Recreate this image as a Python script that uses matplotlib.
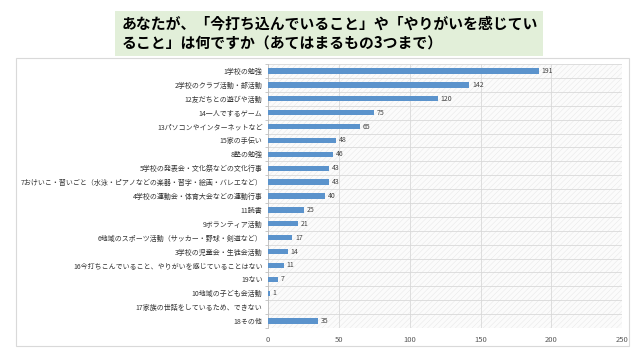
import matplotlib
matplotlib.use("Agg")
import matplotlib.pyplot as plt
from matplotlib.patches import Rectangle

plt.rcParams['font.family'] = ['Noto Sans CJK JP', 'DejaVu Sans']
plt.rcParams['hatch.linewidth'] = 0.3

title = "あなたが、「今打ち込んでいること」や「やりがいを感じてい\nること」は何ですか（あてはまるもの3つまで）"

labels = [
    "1学校の勉強",
    "2学校のクラブ活動・部活動",
    "12友だちとの遊びや活動",
    "14一人でするゲーム",
    "13パソコンやインターネットなど",
    "15家の手伝い",
    "8塾の勉強",
    "5学校の発表会・文化祭などの文化行事",
    "7おけいこ・習いごと（水泳・ピアノなどの楽器・習字・絵画・バレエなど）",
    "4学校の運動会・体育大会などの運動行事",
    "11読書",
    "9ボランティア活動",
    "6地域のスポーツ活動（サッカー・野球・剣道など）",
    "3学校の児童会・生徒会活動",
    "16今打ちこんでいること、やりがいを感じていることはない",
    "19ない",
    "10地域の子ども会活動",
    "17家族の世話をしているため、できない",
    "18その他",
]
values = [191, 142, 120, 75, 65, 48, 46, 43, 43, 40, 25, 21, 17, 14, 11, 7, 1, 0, 35]
xticks = [0, 50, 100, 150, 200, 250]

fig = plt.figure(figsize=(6.4, 3.6), dpi=100)

# outer chart frame
fig.patches.append(Rectangle((0.025, 0.039), 0.958, 0.8, transform=fig.transFigure,
                             facecolor='white', edgecolor='#d9d9d9', linewidth=0.8, zorder=-2))
# title box
fig.patches.append(Rectangle((0.18, 0.845), 0.669, 0.125, transform=fig.transFigure,
                             facecolor='#e2efd9', edgecolor='none', zorder=-2))
fig.text(0.19, 0.907, title, fontsize=10.7, fontweight='bold', va='center', ha='left',
         linespacing=1.35)

ax = fig.add_axes([0.419, 0.089, 0.553, 0.733])
ax.set_zorder(2)
ax.set_facecolor('white')
ax.add_patch(Rectangle((0, 0), 1, 1, transform=ax.transAxes, facecolor='#fbfbfb',
                       edgecolor='#e4e4e4', hatch='//////', linewidth=0, zorder=0))

y = list(range(len(labels)))
ax.barh(y, values, height=0.38, color='#5b93cc', zorder=3)
for yi, v in zip(y, values):
    if v > 0:
        ax.text(v + 2, yi, str(v), fontsize=5, color='#404040', va='center', ha='left', zorder=4)

ax.set_xlim(0, 250)
ax.set_ylim(len(labels) - 0.5, -0.5)
ax.set_xticks(xticks)
ax.set_yticks(y)
ax.set_yticklabels(labels, fontsize=5, color='#333333')
ax.set_yticks([i + 0.5 for i in range(-1, len(labels))], minor=True)
ax.tick_params(axis='x', labelsize=5.5, labelcolor='#595959', length=0, pad=6)
ax.tick_params(axis='y', which='major', length=0, pad=4)
ax.tick_params(axis='y', which='minor', length=2, color='#bfbfbf')
ax.grid(axis='x', color='#d9d9d9', linewidth=0.6, zorder=1)
ax.grid(axis='y', which='minor', color='#d9d9d9', linewidth=0.6, zorder=1)
for s in ['top', 'right', 'bottom']:
    ax.spines[s].set_visible(False)
ax.spines['left'].set_color('#bfbfbf')
ax.spines['left'].set_linewidth(0.6)

fig.savefig("out.png", dpi=100)
